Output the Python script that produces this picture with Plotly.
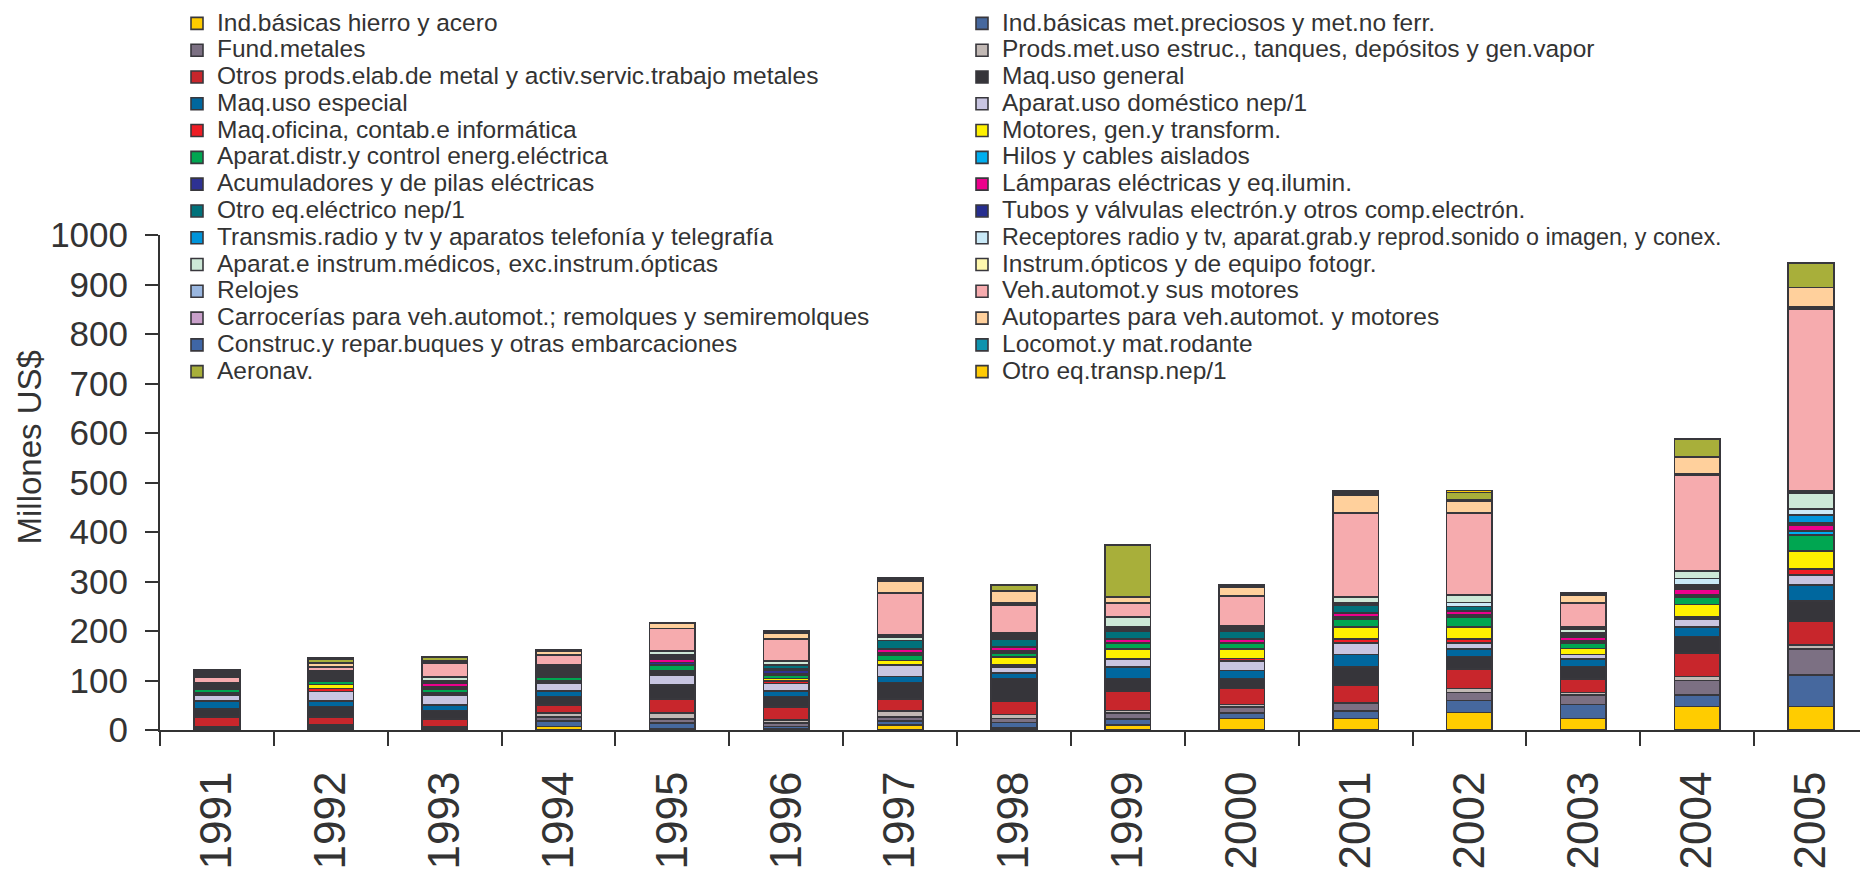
import plotly.graph_objects as go

# Exports of metal-mechanical industries by branch, millions of US$
years = ["1991", "1992", "1993", "1994", "1995", "1996", "1997", "1998",
         "1999", "2000", "2001", "2002", "2003", "2004", "2005"]

hierro_acero = [1, 2, 1, 6.7, 3, 2, 10.4, 3.8, 10.4, 22.9, 22.9, 35.1, 22.9, 47.2, 47.2]
met_preciosos = [2, 3, 2, 11.8, 11.5, 5.2, 8.1, 11, 12.2, 11.5, 15.9, 24.2, 28.3, 23.6, 63.9]
fund_metales = [2, 3, 2.5, 8, 8, 6.6, 8.1, 8.1, 11.4, 12.6, 15.7, 16.2, 19.8, 28.9, 52.2]
prods_estruc = [2, 3, 1.5, 7.8, 12.3, 6.2, 12.1, 8.1, 5.5, 4.6, 0.5, 8.1, 4.8, 8.1, 8.7]
otros_prods_metal = [19, 15, 15, 15.7, 27.4, 26.1, 23.5, 27.2, 38.9, 32.2, 36.2, 39.9, 26.8, 47.4, 48.5]
maq_uso_general = [17, 21.5, 17.5, 17.7, 27.8, 21.7, 33.9, 46, 25.8, 20.4, 36.5, 25.1, 25.8, 33.8, 40.5]
maq_uso_especial = [16, 11, 10.5, 11.3, 2, 11.3, 11.7, 11.3, 22.7, 15.8, 24.5, 15.1, 15.4, 19.5, 32]
aparat_domestico = [11.5, 19.5, 20, 15.5, 18.7, 14.8, 23.8, 12.1, 17, 19.7, 23.6, 12.1, 8.4, 16, 20.1]
maq_oficina = [2.5, 5.5, 2.5, 2.5, 4, 4.5, 0.5, 4.2, 0.5, 4.9, 8.2, 8.2, 0.1, 4.2, 11.8]
motores = [2.5, 8.5, 3, 3, 5, 5.8, 8, 16, 19.3, 19.1, 24.5, 24.5, 12.1, 24.5, 37.1]
aparat_distr = [6, 6.5, 7, 6.6, 10.6, 6.5, 11, 7.4, 11.6, 11.6, 15.4, 19.4, 11.6, 15.8, 32.3]
hilos_cables = [1.5, 2, 2, 2.5, 2, 3.5, 2.5, 2.5, 0.5, 0.5, 2.5, 2.5, 2.5, 2.5, 8.1]
acumuladores = [1, 1.5, 3.5, 2, 4, 7, 2.4, 2.4, 0.4, 0.4, 2.3, 2.4, 2.4, 2.3, 0.1]
lamparas = [1.5, 2.5, 6.5, 3, 6.8, 3.2, 7.6, 7.6, 7.7, 7.7, 7.7, 7.7, 7.3, 10.7, 11.9]
otro_electrico = [2, 3, 2, 3.5, 3, 6.5, 16.9, 16.4, 15.7, 15.7, 16.4, 8.7, 3, 4, 3.5]
tubos_valvulas = [2, 3, 1.5, 3, 2.5, 0.5, 0.2, 2.5, 3.5, 3, 2.5, 0.1, 2.5, 3, 0.1]
transmis_radio = [1.5, 2.5, 1, 3, 2, 0.5, 0.1, 2.5, 3, 3, 1.2, 0.1, 2, 1.9, 16.7]
receptores = [1.5, 2.5, 1, 3, 2, 0.5, 0.1, 2.5, 3, 2.5, 1.2, 7.9, 1.4, 12.3, 11.5]
instrum_medicos = [1.5, 2.5, 6.5, 3, 6.6, 6.6, 7.3, 2.3, 18.9, 1, 11, 15.5, 7.2, 15.5, 32.2]
instrum_opticos = [0.5, 1, 0.8, 1.5, 0.5, 0.5, 2.4, 1.3, 0.2, 0.4, 0.2, 0.1, 2.5, 0.1, 2.5]
relojes = [0.5, 1, 0.8, 1.3, 0.4, 0.4, 2.4, 1.2, 0.2, 0.4, 0.3, 0.1, 2.4, 0.1, 2.3]
veh_automot = [11, 7.5, 26.8, 19.1, 44.6, 44, 83.7, 56.4, 26.8, 60.9, 169.2, 165.4, 46.1, 193.4, 366.9]
carrocerias = [2, 0.8, 1, 0.5, 0.6, 0.4, 0.5, 4.2, 2.5, 0.3, 0.1, 0.1, 2.4, 2.4, 4.8]
autopartes = [2.5, 6.6, 1.5, 7.5, 10.9, 11.9, 24.1, 23.5, 11.3, 18.1, 35.9, 24.2, 15.3, 33.6, 38.7]
buques = [2.5, 0.8, 1.5, 0.4, 0.3, 1, 1.5, 0.1, 0.1, 1.3, 2.5, 0.8, 1.2, 0.1, 0.1]
locomotoras = [2.5, 0.8, 1.5, 0.4, 0.3, 1, 1.5, 0.1, 0.1, 1.3, 2.5, 0.8, 1.2, 0.1, 0.1]
aeronaves = [2.5, 7.2, 7.3, 0.4, 0.4, 1.5, 1.5, 12.5, 104.5, 1.3, 3, 15.7, 1.1, 36.5, 49.2]
otro_transporte = [3, 1.7, 1.1, 0.4, 0.3, 1, 1.3, 1.1, 1.4, 1.2, 1.1, 3.5, 1, 1.1, 1.1]

series = [
    ("Ind.básicas hierro y acero", hierro_acero, "#FFCC00"),
    ("Ind.básicas met.preciosos y met.no ferr.", met_preciosos, "#46689E"),
    ("Fund.metales", fund_metales, "#7C7083"),
    ("Prods.met.uso estruc., tanques, depósitos y gen.vapor", prods_estruc, "#C2B9B5"),
    ("Otros prods.elab.de metal y activ.servic.trabajo metales", otros_prods_metal, "#C8262C"),
    ("Maq.uso general", maq_uso_general, "#36353A"),
    ("Maq.uso especial", maq_uso_especial, "#00679E"),
    ("Aparat.uso doméstico nep/1", aparat_domestico, "#C8C5E1"),
    ("Maq.oficina, contab.e informática", maq_oficina, "#EE1D25"),
    ("Motores, gen.y transform.", motores, "#FFF100"),
    ("Aparat.distr.y control energ.eléctrica", aparat_distr, "#00A651"),
    ("Hilos y cables aislados", hilos_cables, "#00AEEF"),
    ("Acumuladores y de pilas eléctricas", acumuladores, "#2E3192"),
    ("Lámparas eléctricas y eq.ilumin.", lamparas, "#EC008C"),
    ("Otro eq.eléctrico nep/1", otro_electrico, "#00717A"),
    ("Tubos y válvulas electrón.y otros comp.electrón.", tubos_valvulas, "#262E8F"),
    ("Transmis.radio y tv y aparatos telefonía y telegrafía", transmis_radio, "#0094DA"),
    ("Receptores radio y tv, aparat.grab.y reprod.sonido o imagen, y conex.", receptores, "#C9E9F7"),
    ("Aparat.e instrum.médicos, exc.instrum.ópticas", instrum_medicos, "#CDE8D7"),
    ("Instrum.ópticos y de equipo fotogr.", instrum_opticos, "#FFF8AE"),
    ("Relojes", relojes, "#9AB7E0"),
    ("Veh.automot.y sus motores", veh_automot, "#F6ABAE"),
    ("Carrocerías para veh.automot.; remolques y semiremolques", carrocerias, "#C9A0CA"),
    ("Autopartes para veh.automot. y motores", autopartes, "#FFD09C"),
    ("Construc.y repar.buques y otras embarcaciones", buques, "#3F66A6"),
    ("Locomot.y mat.rodante", locomotoras, "#0E93AE"),
    ("Aeronav.", aeronaves, "#A8AF3A"),
    ("Otro eq.transp.nep/1", otro_transporte, "#FFCB05"),
]

OUTLINE = "#38373C"
TEXT = "#333333"
FONT = "Arial, Liberation Sans, sans-serif"
ENTRY_PX = 24.5
LONG_ENTRY_PX = 23.3  # the longest entry, kept inside the legend box

fig = go.Figure()
for label, values, color in series:
    px = LONG_ENTRY_PX if len(label) > 60 else ENTRY_PX
    fig.add_trace(go.Bar(
        x=years, y=values, width=0.4,
        # legend rows stay tight while the entry text is drawn larger
        name=f'<span style="font-size:{px}px">{label}</span>',
        marker=dict(color=color, line=dict(color=OUTLINE, width=1.6)),
    ))

fig.update_layout(
    width=1860, height=871,
    margin=dict(l=160, r=0, t=235, b=141, autoexpand=False),
    barmode="stack",
    paper_bgcolor="white", plot_bgcolor="white",
    font=dict(family=FONT, color=TEXT),
    showlegend=True,
    legend=dict(
        orientation="h", traceorder="normal",
        xref="container", yref="container",
        x=177 / 1860, xanchor="left", y=1 - 5 / 871, yanchor="top",
        entrywidth=740, entrywidthmode="pixels",
        font=dict(family=FONT, size=18.3, color=TEXT),
        bgcolor="rgba(0,0,0,0)", borderwidth=0,
    ),
    xaxis=dict(
        type="category", range=[-0.5, 14.43],
        showline=True, linecolor=TEXT, linewidth=2,
        ticks="outside", ticklen=14, tickwidth=2, tickcolor=TEXT,
        tickson="boundaries", tickangle=-90,
        tickfont=dict(family=FONT, size=44, color=TEXT),
        ticklabelstandoff=22,
        showgrid=False, zeroline=False,
    ),
    yaxis=dict(
        range=[0, 1000], tickmode="linear", tick0=0, dtick=100,
        showline=True, linecolor=TEXT, linewidth=2,
        ticks="outside", ticklen=13, tickwidth=2, tickcolor=TEXT,
        tickfont=dict(family=FONT, size=35, color=TEXT),
        ticklabelstandoff=10,
        showgrid=False, zeroline=False,
    ),
    annotations=[dict(
        text="Millones US$", textangle=-90,
        xref="paper", yref="paper",
        x=(28.5 - 160) / 1700, y=(730 - 448) / 495,
        xanchor="center", yanchor="middle", showarrow=False,
        font=dict(family=FONT, size=33, color=TEXT),
    )],
)

fig.write_html("out.html")
